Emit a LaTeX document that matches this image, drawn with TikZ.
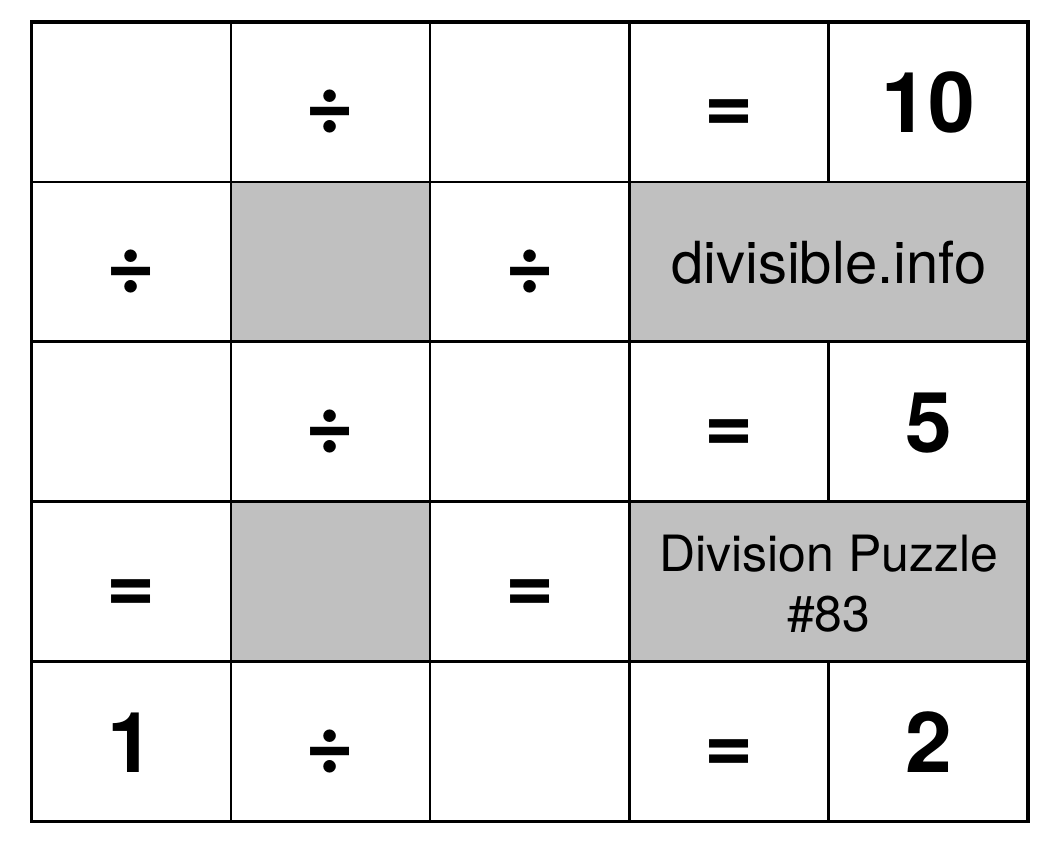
\documentclass[tikz,border=0pt]{standalone}
\usepackage{fontspec}
\setmainfont{TeX Gyre Heros}
\definecolor{shade}{HTML}{C0C0C0}
\begin{document}
\begin{tikzpicture}[x=1pt,y=1pt,
  cell/.style={draw=black, line width=2.6pt, minimum width=199.3pt, minimum height=159.9pt, inner sep=0pt, outer sep=0pt, fill=white},
  greycell/.style={cell, fill=shade},
  widecell/.style={cell, minimum width=398.6pt, fill=shade},
  big/.style={anchor=base, inner sep=0pt, font=\fontsize{84}{84}\selectfont\bfseries},
  site/.style={anchor=base, inner sep=0pt, font=\fontsize{58}{58}\selectfont},
  title/.style={anchor=base, inner sep=0pt, font=\fontsize{50}{50}\selectfont}]
\useasboundingbox (0,0) rectangle (1060,844);
\fill[white] (0,0) rectangle (1060,844);
% columns centres
\def\cA{131.15}\def\cB{330.45}\def\cC{529.75}\def\cD{729.05}\def\cE{928.35}\def\cDE{828.7}
\def\rA{742.05}\def\rB{582.15}\def\rC{422.25}\def\rD{262.35}\def\rE{102.45}
% row 1
\node[cell] (c11) at (\cA,\rA) {};
\node[cell] (c12) at (\cB,\rA) {};
\node[cell] (c13) at (\cC,\rA) {};
\node[cell] (c14) at (\cD,\rA) {};
\node[cell] (c15) at (\cE,\rA) {};
% row 2
\node[cell] (c21) at (\cA,\rB) {};
\node[greycell] (c22) at (\cB,\rB) {};
\node[cell] (c23) at (\cC,\rB) {};
\node[widecell] (c24) at (\cDE,\rB) {};
% row 3
\node[cell] (c31) at (\cA,\rC) {};
\node[cell] (c32) at (\cB,\rC) {};
\node[cell] (c33) at (\cC,\rC) {};
\node[cell] (c34) at (\cD,\rC) {};
\node[cell] (c35) at (\cE,\rC) {};
% row 4
\node[cell] (c41) at (\cA,\rD) {};
\node[greycell] (c42) at (\cB,\rD) {};
\node[cell] (c43) at (\cC,\rD) {};
\node[widecell] (c44) at (\cDE,\rD) {};
% row 5
\node[cell] (c51) at (\cA,\rE) {};
\node[cell] (c52) at (\cB,\rE) {};
\node[cell] (c53) at (\cC,\rE) {};
\node[cell] (c54) at (\cD,\rE) {};
\node[cell] (c55) at (\cE,\rE) {};
% outer frame
\draw[line width=3.6pt] (c11.north west) rectangle (c55.south east);
% texts
\node[big] (t12) at ([yshift=-31pt]c12.center) {÷};
\node[big] (t14) at ([yshift=-31pt]c14.center) {=};
\node[big] (t15) at ([yshift=-31pt]c15.center) {10};
\node[big] (t21) at ([yshift=-31pt]c21.center) {÷};
\node[big] (t23) at ([yshift=-31pt]c23.center) {÷};
\node[site] (t24) at ([yshift=-22pt]c24.center) {divisible.info};
\node[big] (t32) at ([yshift=-31pt]c32.center) {÷};
\node[big] (t34) at ([yshift=-31pt]c34.center) {=};
\node[big] (t35) at ([yshift=-31pt]c35.center) {5};
\node[big] (t41) at ([yshift=-31pt]c41.center) {=};
\node[big] (t43) at ([yshift=-31pt]c43.center) {=};
\node[title] (t44a) at ([yshift=10pt]c44.center) {Division Puzzle};
\node[title] (t44b) at ([yshift=-50pt]c44.center) {\#83};
\node[big] (t51) at ([yshift=-31pt]c51.center) {1};
\node[big] (t52) at ([yshift=-31pt]c52.center) {÷};
\node[big] (t54) at ([yshift=-31pt]c54.center) {=};
\node[big] (t55) at ([yshift=-31pt]c55.center) {2};
\end{tikzpicture}
\end{document}
